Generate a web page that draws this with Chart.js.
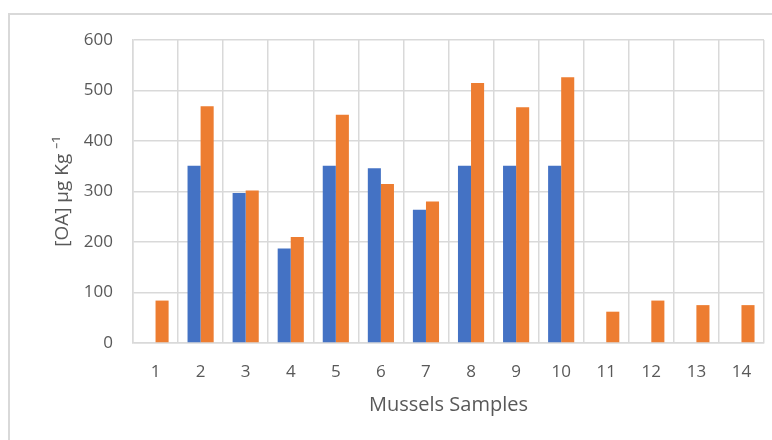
<!DOCTYPE html>
<html>
<head>
<meta charset="utf-8">
<script src="https://cdn.jsdelivr.net/npm/chart.js@4/dist/chart.umd.min.js"></script>
<style>
    html, body { margin: 0; padding: 0; background: #fff; }
    #frame { position: absolute; left: 8px; top: 13px; width: 800px; height: 500px; border: 2px solid #d9d9d9; }
    #wrap { position: absolute; left: 0; top: 0; width: 772px; height: 440px; }
</style>
</head>
<body>
<div id="frame"></div>
<div id="wrap"><canvas id="chart" width="772" height="440"></canvas></div>
<script>
// Mussels samples, two series of [OA]
const samples = ['1', '2', '3', '4', '5', '6', '7', '8', '9', '10', '11', '12', '13', '14'];
const seriesBlue = [null, 351, 297, 187, 351, 346, 264, 351, 351, 351, null, null, null, null];
const seriesOrange = [84, 469, 302, 210, 452, 315, 280, 515, 467, 526, 62, 84, 75, 75];
const yTicks = [0, 100, 200, 300, 400, 500, 600];

const gridColor = '#d9d9d9';
const textColor = '#595959';
const fontFamily = '"Open Sans", "Liberation Sans", sans-serif';

const ctx = document.getElementById('chart').getContext('2d');
new Chart(ctx, {
    type: 'bar',
    data: {
        labels: samples,
        datasets: [
            {
                label: 'Series 1',
                data: seriesBlue,
                backgroundColor: '#4472C4',
                categoryPercentage: 0.58,
                barPercentage: 1.0
            },
            {
                label: 'Series 2',
                data: seriesOrange,
                backgroundColor: '#ED7D31',
                categoryPercentage: 0.58,
                barPercentage: 1.0
            }
        ]
    },
    options: {
        responsive: false,
        animation: false,
        layout: { padding: { top: 40, right: 8, left: 0, bottom: 0 } },
        plugins: {
            legend: { display: false },
            tooltip: { enabled: false }
        },
        scales: {
            x: {
                grid: { color: gridColor, lineWidth: 1.5, drawTicks: false },
                border: { color: gridColor, width: 1.5 },
                ticks: {
                    color: textColor,
                    padding: 19,
                    font: { family: fontFamily, size: 17 },
                    maxRotation: 0
                },
                title: {
                    display: true,
                    text: 'Mussels Samples',
                    color: textColor,
                    font: { family: fontFamily, size: 20 },
                    padding: { top: 0, bottom: 23 }
                },
                afterFit: function(scale) { scale.height = 97; }
            },
            y: {
                min: 0,
                max: 600,
                afterBuildTicks: function(scale) {
                    scale.ticks = yTicks.map(v => ({ value: v }));
                },
                grid: { color: gridColor, lineWidth: 1.5, drawTicks: false },
                border: { color: gridColor, width: 1.5 },
                ticks: {
                    color: textColor,
                    padding: 20,
                    font: { family: fontFamily, size: 17 }
                },
                title: {
                    display: true,
                    text: '[OA] µg Kg ⁻¹',
                    color: textColor,
                    font: { family: fontFamily, size: 19 },
                    padding: { top: 51, bottom: 0 }
                },
                afterFit: function(scale) { scale.width = 133; }
            }
        }
    }
});
</script>
</body>
</html>
